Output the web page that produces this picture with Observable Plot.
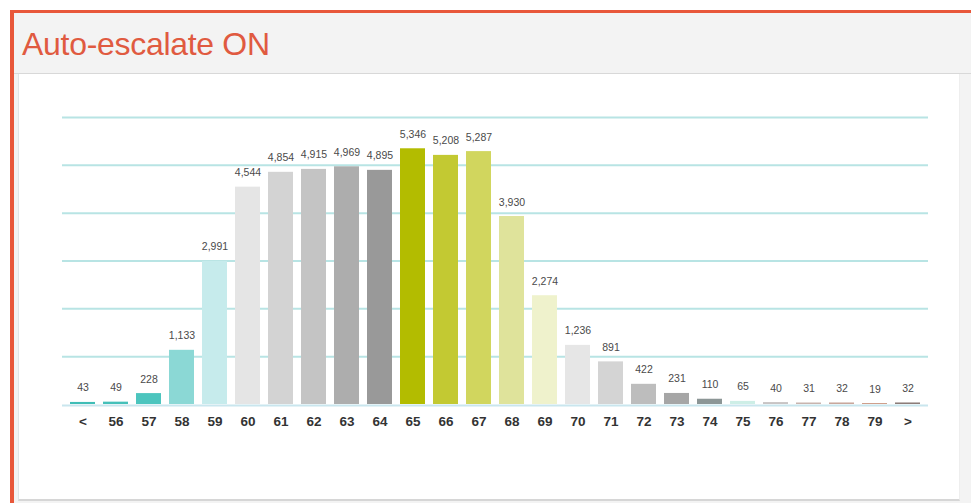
<!DOCTYPE html>
<html>
<head>
<meta charset="utf-8">
<script src="https://cdn.jsdelivr.net/npm/d3@7"></script>
<script src="https://cdn.jsdelivr.net/npm/@observablehq/plot@0.6"></script>
<style>
  html, body { margin: 0; padding: 0; background: #ffffff; }
  body { width: 971px; height: 503px; position: relative; overflow: hidden; font-family: "Liberation Sans", Arial, sans-serif; }
  #outer { position: absolute; left: 10px; top: 10px; width: 961px; height: 493px; background: #f3f3f3;
           border-top: 3px solid #e8573a; border-left: 4px solid #e8573a; box-sizing: border-box; }
  #title { position: absolute; left: 22px; top: 28px; font-size: 32px; color: #e05a40; line-height: 1; letter-spacing: -0.3px; }
  #headline { position: absolute; left: 14px; top: 73px; width: 957px; height: 1px; background: #d8d8d8; }
  #panel { position: absolute; left: 18px; top: 74px; width: 940px; height: 425px; background: #ffffff;
           border-left: 1px solid #dfe6e6; border-right: 1px solid #eeeeee; border-bottom: 2px solid #d6d6d6; }
  #chart { position: absolute; left: 0; top: 80px; }
</style>
</head>
<body>
<div id="outer"></div>
<div id="headline"></div>
<div id="panel"></div>
<div id="title">Auto-escalate ON</div>
<div id="chart"></div>
<script>
const categories = ["<","56","57","58","59","60","61","62","63","64","65","66","67","68","69","70","71","72","73","74","75","76","77","78","79",">"];
const counts = [43,49,228,1133,2991,4544,4854,4915,4969,4895,5346,5208,5287,3930,2274,1236,891,422,231,110,65,40,31,32,19,32];
const barColors = ["#3fbdb6","#45c0b9","#4cc5be","#8bd8d5","#c6ebec","#e5e5e5","#d3d3d3","#c4c4c4","#adadad","#999999",
                   "#b3bc00","#c3c932","#d1d65e","#dfe39b","#eff2cc","#e6e6e6","#d4d4d4","#bdbdbd","#a6a6a6","#8c9696",
                   "#cdeee6","#c8c4c4","#c8b4ae","#c8a79c","#cb9680","#8c7c78"];
const gridValues = [1000,2000,3000,4000,5000,6000];

const data = categories.map((c, i) => ({cat: c, value: counts[i], color: barColors[i]}));
const fmt = d3.format(",");

const chart = Plot.plot({
  width: 971,
  height: 370,
  marginLeft: 62,
  marginRight: 43,
  marginTop: 37,
  marginBottom: 46,
  style: {fontFamily: "Liberation Sans, Arial, sans-serif", background: "transparent"},
  x: {type: "band", domain: categories, paddingInner: 0.23, paddingOuter: 0.125, label: null},
  y: {domain: [0, 6000], axis: null},
  color: {type: "identity"},
  marks: [
    Plot.ruleY(gridValues, {stroke: "#b8e4e4", strokeWidth: 2}),
    Plot.ruleY([0], {stroke: "#c9e6ee", strokeWidth: 2, dy: 1}),
    Plot.barY(data, {x: "cat", y: "value", fill: "color"}),
    Plot.text(data, {x: "cat", y: "value", text: d => fmt(d.value), lineAnchor: "bottom", dy: -11,
                     fontSize: 10.5, fill: "#4a4a4a"}),
    Plot.axisX({tickSize: 0, tickPadding: 12, fontSize: 13.5, fontWeight: "bold", color: "#333333", label: null})
  ]
});
document.getElementById("chart").appendChild(chart);
</script>
</body>
</html>
